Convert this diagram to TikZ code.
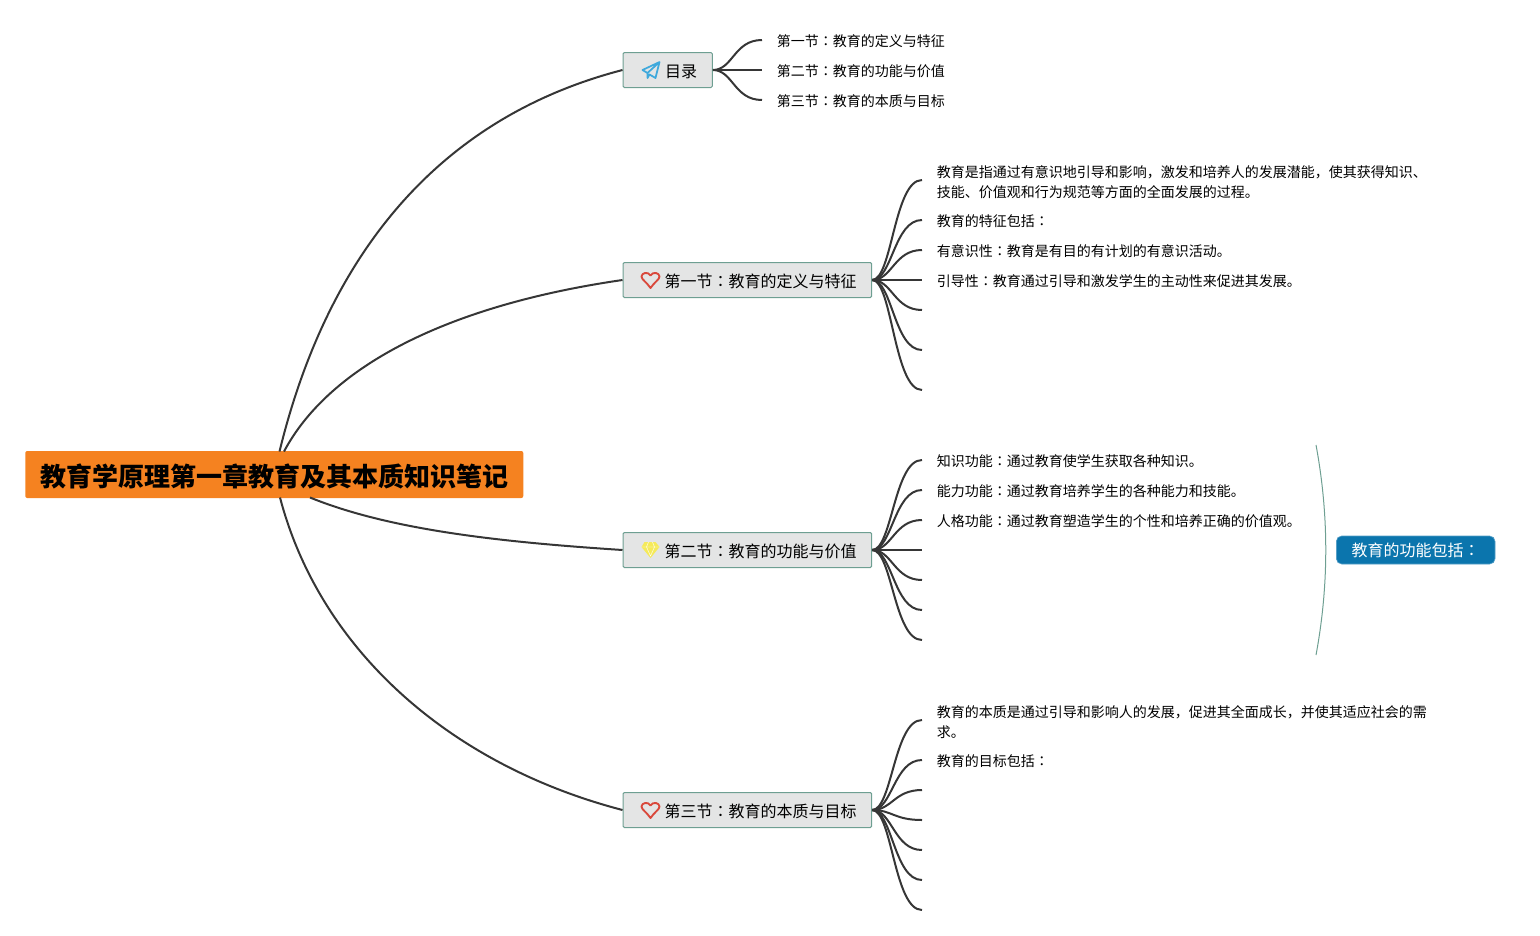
\documentclass[tikz,border=0pt]{standalone}
\usepackage{fontspec}
\setmainfont{Noto Sans CJK SC}
\newfontfamily\jpf{Noto Sans CJK JP}
\newcommand{\cln}{{\jpf ：}}
\definecolor{trunk}{HTML}{363636}
\definecolor{boxfill}{HTML}{E4E5E5}
\definecolor{boxline}{HTML}{6E9F92}
\definecolor{rootfill}{HTML}{F58220}
\definecolor{sumfill}{HTML}{0B75AD}
\definecolor{iconblue}{HTML}{3FA9DC}
\definecolor{iconred}{HTML}{D9483B}
\definecolor{iconyellow}{HTML}{F5EA5A}
\newcommand{\lstrut}{\rule[-2.5pt]{0pt}{15pt}}
\newcommand{\topstrut}{\rule{0pt}{13.5pt}}
\newcommand{\iconheart}[1]{%
  \draw[iconred,line width=1.4pt,line join=round,shift={(#1)}]
    (28,8) .. controls (24,2) and (19,-0.5) .. (19,-3.5)
    .. controls (19,-7) and (25.5,-9) .. (28,-4.5)
    .. controls (30.5,-9) and (37,-7) .. (37,-3.5)
    .. controls (37,-0.5) and (32,2) .. (28,8) -- cycle;}
\tikzset{
  x=0.75pt,y=-0.75pt,
  linkline/.style={draw=trunk,line width=1.5pt},
  leaftext/.style={anchor=west,inner ysep=0pt,inner xsep=11pt,align=left,
    font=\fontsize{10.5}{15}\selectfont,text=black,
    execute at begin node=\lstrut,execute at end node=\lstrut},
  topicbox/.style={anchor=west,draw=boxline,line width=0.75pt,fill=boxfill,rounded corners=1pt,
    minimum height=26.25pt,inner xsep=11.25pt,inner ysep=0pt,
    font=\fontsize{12}{15}\selectfont,text=black},
  rootbox/.style={anchor=west,fill=rootfill,rounded corners=1.5pt,minimum height=35.25pt,
    minimum width=373.5pt,inner sep=0pt,font=\fontsize{19.5}{24}\selectfont\bfseries,text=black},
  sumbox/.style={anchor=west,draw=sumfill!70!white,line width=0.5pt,fill=sumfill,rounded corners=4pt,
    minimum height=21pt,minimum width=119pt,inner sep=0pt,
    font=\fontsize{12}{15}\selectfont,text=white},
  sumcurve/.style={draw=boxline,line width=0.75pt},
}
\newcommand{\toptext}[1]{\hspace{20pt}\rule[-3pt]{0pt}{16.7pt}#1}
\newcommand{\leaflink}[2]{\draw[linkline] (#1.east) .. controls +(20,0) and ($(#2)+(-28,0)$) .. (#2);}
\usetikzlibrary{calc}
\begin{document}
\begin{tikzpicture}
\useasboundingbox (0,0) rectangle (1540,935);
% topics
\node[rootbox] (root) at (25,474.5) {\rule[-3pt]{0pt}{24.6pt}教育学原理第一章教育及其本质知识笔记};
\node[topicbox,minimum width=67pt] (toc) at (622.5,70) {\toptext{目录}};
\node[topicbox] (s1) at (622.5,280) {\toptext{第一节\cln 教育的定义与特征}};
\node[topicbox] (s2) at (622.5,550) {\toptext{第二节\cln 教育的功能与价值}};
\node[topicbox] (s3) at (622.5,810) {\toptext{第三节\cln 教育的本质与目标}};
% root anchors
\coordinate (r1) at (279.5,451.5);
\coordinate (r2) at (284,451.5);
\coordinate (r3) at (310,497.5);
\coordinate (r4) at (280,497.5);
\draw[linkline] (r1) .. controls (325,265) and (430,120) .. (toc.west);
\draw[linkline] (r2) .. controls (330,365) and (450,305) .. (s1.west);
\draw[linkline] (r3) .. controls (390,530) and (500,542) .. (s2.west);
\draw[linkline] (r4) .. controls (320,650) and (450,765) .. (s3.west);
% toc leaves
\node[leaftext] (t1) at (762,40) {第一节\cln 教育的定义与特征};
\node[leaftext] (t2) at (762,70) {第二节\cln 教育的功能与价值};
\node[leaftext] (t3) at (762,100) {第三节\cln 教育的本质与目标};
\foreach \n in {t1,t2,t3} {\leaflink{toc}{\n.west}}
% section 1 leaves
\node[leaftext] (a1) at (922,180) {\topstrut 教育是指通过有意识地引导和影响，激发和培养人的发展潜能，使其获得知识、\\技能、价值观和行为规范等方面的全面发展的过程。};
\node[leaftext] (a2) at (922,220) {教育的特征包括\cln};
\node[leaftext] (a3) at (922,250) {有意识性\cln 教育是有目的有计划的有意识活动。};
\node[leaftext] (a4) at (922,280) {引导性\cln 教育通过引导和激发学生的主动性来促进其发展。};
\coordinate (a5) at (922,310);
\coordinate (a6) at (922,350);
\coordinate (a7) at (922,390);
\foreach \n in {a1.west,a2.west,a3.west,a4.west,a5,a6,a7} {\leaflink{s1}{\n}}
% section 2 leaves
\node[leaftext] (b1) at (922,460) {知识功能\cln 通过教育使学生获取各种知识。};
\node[leaftext] (b2) at (922,490) {能力功能\cln 通过教育培养学生的各种能力和技能。};
\node[leaftext] (b3) at (922,520) {人格功能\cln 通过教育塑造学生的个性和培养正确的价值观。};
\coordinate (b4) at (922,550);
\coordinate (b5) at (922,580);
\coordinate (b6) at (922,610);
\coordinate (b7) at (922,640);
\foreach \n in {b1.west,b2.west,b3.west,b4,b5,b6,b7} {\leaflink{s2}{\n}}
% section 3 leaves
\node[leaftext] (c1) at (922,720) {\topstrut 教育的本质是通过引导和影响人的发展，促进其全面成长，并使其适应社会的需\\求。};
\node[leaftext] (c2) at (922,760) {教育的目标包括\cln};
\coordinate (c3) at (922,790);
\coordinate (c4) at (922,820);
\coordinate (c5) at (922,850);
\coordinate (c6) at (922,880);
\coordinate (c7) at (922,910);
\foreach \n in {c1.west,c2.west,c3,c4,c5,c6,c7} {\leaflink{s3}{\n}}
% summary
\node[sumbox] (sum) at (1336,550) {教育的功能包括\cln};
\coordinate (sa) at (1316,445);
\coordinate (sb) at (1316,655);
\draw[sumcurve] (sa) .. controls (1329,515) and (1329,585) .. (sb);
% icons
\draw[iconblue,line width=1.3pt,line join=round,shift={(toc.west)}]
  (37,-8) -- (20,0) -- (25,3) -- (37,-8) -- (33,8) -- (27,4.5) -- (25,8) -- (25,3);
\iconheart{s1.west}
\iconheart{s3.west}
\begin{scope}[shift={(s2.west)}]
  \fill[iconyellow] (22,-8) -- (33,-8) -- (37,-3) -- (28,8) -- (19,-3) -- cycle;
  \draw[white,line width=0.3pt] (19.5,-3) -- (36.5,-3) (24,-3) -- (28,6) -- (32,-3) (24,-3) -- (26,-8) (32,-3) -- (30,-8);
\end{scope}
\end{tikzpicture}
\end{document}
